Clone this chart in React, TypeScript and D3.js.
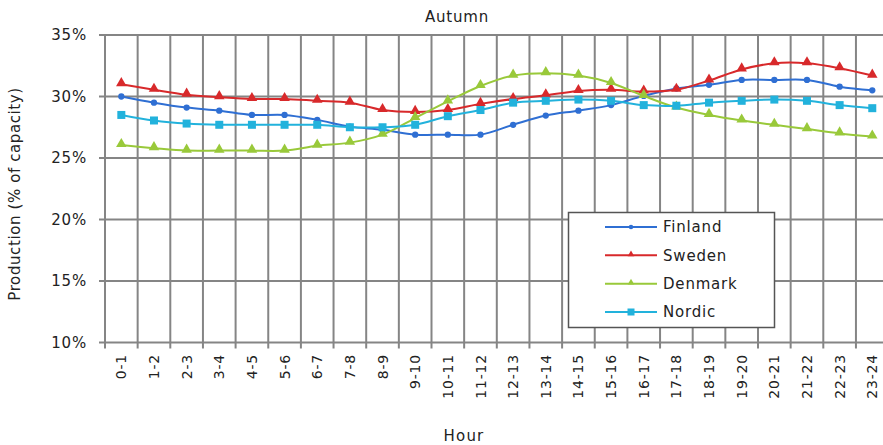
import React, { useEffect, useRef } from "react";
import * as d3 from "d3";

const hours = [
  "0-1", "1-2", "2-3", "3-4", "4-5", "5-6", "6-7", "7-8", "8-9", "9-10", "10-11", "11-12",
  "12-13", "13-14", "14-15", "15-16", "16-17", "17-18", "18-19", "19-20", "20-21", "21-22", "22-23", "23-24",
];

const finland = [
  30.0, 29.5, 29.1, 28.85, 28.5, 28.5, 28.1, 27.55, 27.3, 26.9, 26.9, 26.9,
  27.7, 28.45, 28.85, 29.3, 30.05, 30.65, 30.95, 31.35, 31.35, 31.35, 30.8, 30.5,
];
const sweden = [
  31.0, 30.55, 30.15, 29.95, 29.8, 29.8, 29.65, 29.5, 28.9, 28.75, 28.9, 29.4,
  29.8, 30.1, 30.45, 30.55, 30.4, 30.55, 31.3, 32.2, 32.7, 32.7, 32.3, 31.7,
];
const denmark = [
  26.05, 25.8, 25.6, 25.6, 25.6, 25.6, 26.0, 26.25, 26.9, 28.25, 29.6, 30.85,
  31.7, 31.9, 31.7, 31.1, 30.05, 29.1, 28.5, 28.05, 27.7, 27.35, 27.0, 26.75,
];
const nordic = [
  28.5, 28.05, 27.8, 27.7, 27.7, 27.7, 27.7, 27.5, 27.5, 27.7, 28.4, 28.9,
  29.5, 29.65, 29.75, 29.65, 29.3, 29.25, 29.5, 29.65, 29.75, 29.65, 29.3, 29.05,
];

const yTicks = [10, 15, 20, 25, 30, 35];

const seriesList = [
  { name: "Finland", values: finland, color: "#2f6fd3", marker: "circle" },
  { name: "Sweden", values: sweden, color: "#d8292b", marker: "triangle" },
  { name: "Denmark", values: denmark, color: "#99c93a", marker: "triangle" },
  { name: "Nordic", values: nordic, color: "#22b2dc", marker: "square" },
];

const FONT = "'DejaVu Sans', Verdana, sans-serif";

function App() {
  const svgRef = useRef(null);
  const [width, height] = [883, 445];
  const plot = { left: 105, right: 888.6, top: 35, bottom: 342.5 };

  useEffect(() => {
    const svg = d3.select(svgRef.current);
    svg.selectAll("*").remove();

    const x = d3.scaleBand().domain(hours).range([plot.left, plot.right]).padding(0);
    const y = d3.scaleLinear().domain([10, 35]).range([plot.bottom, plot.top]);
    const cx = (h) => x(h) + x.bandwidth() / 2;

    const grid = svg.append("g").attr("stroke", "#858585").attr("stroke-width", 2);

    // horizontal gridlines + left ticks
    yTicks.forEach((t) => {
      grid.append("line")
        .attr("x1", plot.left - 6).attr("x2", plot.right)
        .attr("y1", y(t)).attr("y2", y(t));
    });

    // vertical gridlines at category boundaries + bottom ticks
    hours.forEach((h, i) => {
      grid.append("line")
        .attr("x1", x(h)).attr("x2", x(h))
        .attr("y1", plot.top).attr("y2", plot.bottom + 6);
    });

    // y tick labels
    svg.append("g")
      .selectAll("text")
      .data(yTicks)
      .join("text")
      .attr("x", 87)
      .attr("y", (d) => y(d))
      .attr("dy", "0.36em")
      .attr("text-anchor", "end")
      .attr("font-family", FONT)
      .attr("font-size", 15)
      .attr("letter-spacing", 0.8)
      .attr("fill", "#222")
      .text((d) => d + "%");

    // x tick labels (rotated)
    svg.append("g")
      .selectAll("text")
      .data(hours)
      .join("text")
      .attr("transform", (d) => `translate(${cx(d)},354) rotate(-90)`)
      .attr("dy", "0.36em")
      .attr("text-anchor", "end")
      .attr("font-family", FONT)
      .attr("font-size", 14)
      .attr("letter-spacing", 0.8)
      .attr("fill", "#222")
      .text((d) => d);

    // title and axis titles
    svg.append("text")
      .attr("x", 457).attr("y", 22)
      .attr("text-anchor", "middle")
      .attr("font-family", FONT).attr("font-size", 15).attr("letter-spacing", 0.8)
      .attr("fill", "#222")
      .text("Autumn");

    svg.append("text")
      .attr("x", 464).attr("y", 441)
      .attr("text-anchor", "middle")
      .attr("font-family", FONT).attr("font-size", 15).attr("letter-spacing", 1.2)
      .attr("fill", "#222")
      .text("Hour");

    svg.append("text")
      .attr("transform", "translate(20,194) rotate(-90)")
      .attr("text-anchor", "middle")
      .attr("font-family", FONT).attr("font-size", 15).attr("letter-spacing", 0.6)
      .attr("fill", "#222")
      .text("Production (% of capacity)");

    const drawMarker = (g, type, px, py, color, s) => {
      if (type === "circle") {
        g.append("circle").attr("cx", px).attr("cy", py).attr("r", s * 0.45).attr("fill", color);
      } else if (type === "square") {
        g.append("rect")
          .attr("x", px - s / 2).attr("y", py - s / 2)
          .attr("width", s).attr("height", s)
          .attr("fill", color);
      } else {
        const sym = d3.symbol().type(d3.symbolTriangle).size(s * s * 0.75);
        g.append("path")
          .attr("transform", `translate(${px},${py - 1})`)
          .attr("d", sym())
          .attr("fill", color);
      }
    };

    const line = d3
      .line()
      .x((d, i) => cx(hours[i]))
      .y((d) => y(d))
      .curve(d3.curveCatmullRom.alpha(0.5));

    seriesList.forEach((s) => {
      const g = svg.append("g");
      g.append("path")
        .attr("d", line(s.values))
        .attr("fill", "none")
        .attr("stroke", s.color)
        .attr("stroke-width", 2);
      s.values.forEach((v, i) => {
        drawMarker(g, s.marker, cx(hours[i]), y(v), s.color, s.marker === "circle" ? 7 : 8);
      });
    });

    // legend
    const lg = svg.append("g");
    lg.append("rect")
      .attr("x", 568.5).attr("y", 212.5)
      .attr("width", 206).attr("height", 115)
      .attr("fill", "#fff")
      .attr("stroke", "#555")
      .attr("stroke-width", 1.5);

    const legendY = d3.scalePoint().domain(seriesList.map((s) => s.name)).range([227, 312]);
    seriesList.forEach((s) => {
      const ly = legendY(s.name);
      lg.append("line")
        .attr("x1", 605).attr("x2", 657)
        .attr("y1", ly).attr("y2", ly)
        .attr("stroke", s.color).attr("stroke-width", 2);
      drawMarker(lg, s.marker, 631, ly, s.color, s.marker === "square" ? 7 : 5);
      lg.append("text")
        .attr("x", 663).attr("y", ly)
        .attr("dy", "0.36em")
        .attr("font-family", FONT).attr("font-size", 15).attr("letter-spacing", 0.8)
        .attr("fill", "#222")
        .text(s.name);
    });
  }, []);

  return (
    <div>
      <style>{`body{margin:0}`}</style>
      <svg ref={svgRef} width={width} height={height} style={{ display: "block", background: "#fff" }}></svg>
    </div>
  );
}

export default App;
